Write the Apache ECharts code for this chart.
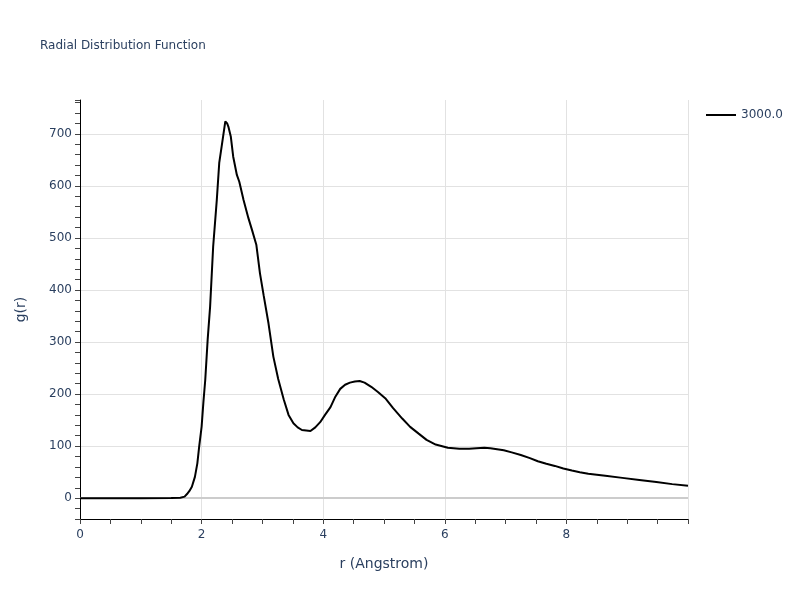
<!DOCTYPE html>
<html>
<head>
<meta charset="utf-8">
<script src="https://cdn.jsdelivr.net/npm/echarts@6/dist/echarts.min.js"></script>
<style>html,body{margin:0;padding:0;background:#fff}#c{width:800px;height:600px}</style>
</head>
<body>
<div id="c"></div>
<script>
const seriesName = '3000.0';
const rValues = [0, 0.5, 1.0, 1.5, 1.65, 1.72, 1.76, 1.80, 1.84, 1.89, 1.93, 1.96, 2.00, 2.03, 2.06, 2.10, 2.14, 2.19, 2.25, 2.29, 2.33, 2.36, 2.39, 2.42, 2.44, 2.48, 2.52, 2.58, 2.62, 2.69, 2.77, 2.83, 2.90, 2.96, 3.02, 3.10, 3.18, 3.26, 3.35, 3.43, 3.51, 3.58, 3.65, 3.72, 3.79, 3.87, 3.95, 4.03, 4.12, 4.20, 4.28, 4.36, 4.44, 4.52, 4.60, 4.68, 4.79, 4.90, 5.02, 5.15, 5.30, 5.43, 5.57, 5.70, 5.85, 6.05, 6.24, 6.40, 6.52, 6.65, 6.75, 6.86, 6.97, 7.10, 7.25, 7.40, 7.53, 7.67, 7.81, 7.95, 8.09, 8.22, 8.36, 8.64, 8.92, 9.20, 9.48, 9.74, 10.0];
const gValues = [0, 0, 0, 0.5, 1, 3, 8, 14, 22, 41, 67, 99, 137, 185, 227, 305, 368, 483, 573, 644, 676, 700, 724, 720, 714, 695, 656, 621, 608, 573, 538, 515, 487, 432, 390, 336, 272, 229, 190, 160, 144, 136, 131, 130, 129, 136, 146, 160, 175, 195, 210, 218, 222, 224, 225, 222, 214, 204, 192, 173, 153, 137, 124, 112, 103, 97, 95, 95, 96, 97, 96, 94, 92, 88, 83, 77, 71, 66, 62, 57, 53, 50, 47, 43, 39, 35, 31, 27, 24];
const xLabelValues = [0, 2, 4, 6, 8];
const yLabelValues = [0, 100, 200, 300, 400, 500, 600, 700];

const data = rValues.map((r, i) => [r, gValues[i]]);
const font = '"DejaVu Sans", Verdana, sans-serif';
const txt = '#2a3f5f';
const grid = '#e2e2e2';
const none = 'rgba(0,0,0,0)';

const chart = echarts.init(document.getElementById('c'), null, {renderer: 'canvas'});
chart.setOption({
  animation: false,
  backgroundColor: '#fff',
  title: {
    text: 'Radial Distribution Function',
    left: 35, top: 35,
    textStyle: {fontFamily: font, fontSize: 12, fontWeight: 'normal', color: txt}
  },
  legend: {
    data: [{name: seriesName, icon: 'rect'}],
    left: 701, top: 104,
    itemWidth: 30, itemHeight: 2,
    textStyle: {fontFamily: font, fontSize: 12, color: txt}
  },
  grid: {left: 80, right: 112, top: 100, bottom: 81, containLabel: false},
  xAxis: {
    type: 'value', min: 0, max: 10, interval: 0.5,
    name: 'r (Angstrom)', nameLocation: 'middle', nameGap: 38,
    nameTextStyle: {fontFamily: font, fontSize: 14, color: txt},
    axisLine: {show: true, onZero: false, lineStyle: {color: '#000', width: 1}},
    axisTick: {show: true, inside: false, length: 5, lineStyle: {color: '#444'}},
    axisLabel: {
      margin: 10, fontFamily: font, fontSize: 12, color: txt,
      formatter: v => xLabelValues.includes(Math.round(v * 1000) / 1000) ? String(v) : ''
    },
    splitLine: {show: true, lineStyle: {color: [grid, none, none, none], width: 1}}
  },
  yAxis: {
    type: 'value', min: -40, max: 765, interval: 20,
    name: 'g(r)', nameLocation: 'middle', nameGap: 52,
    nameTextStyle: {fontFamily: font, fontSize: 14, color: txt},
    axisLine: {show: true, onZero: false, lineStyle: {color: '#000', width: 1}},
    axisTick: {show: true, inside: false, length: 5, lineStyle: {color: '#444'}},
    axisLabel: {
      margin: 8, fontFamily: font, fontSize: 12, color: txt,
      formatter: v => yLabelValues.includes(v) ? String(v) : ''
    },
    splitLine: {show: true, lineStyle: {color: [none, none, grid, none, none], width: 1}}
  },
  series: [{
    name: 'zeroline',
    type: 'line',
    data: [],
    silent: true,
    z: 1,
    markLine: {
      silent: true, symbol: 'none', label: {show: false},
      lineStyle: {color: '#cccccc', width: 2, type: 'solid'},
      data: [{yAxis: 0}]
    }
  }, {
    name: seriesName,
    type: 'line',
    data: data,
    symbol: 'none',
    lineStyle: {color: '#000', width: 2},
    itemStyle: {color: '#000'},
    z: 5
  }]
});
</script>
</body>
</html>
